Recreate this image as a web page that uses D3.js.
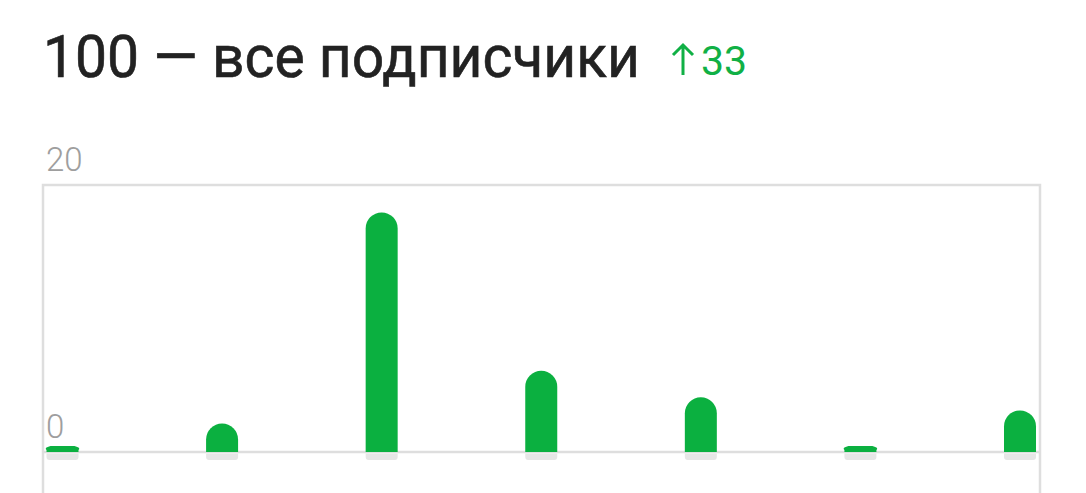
<!DOCTYPE html>
<html>
<head>
<meta charset="utf-8">
<script src="https://cdn.jsdelivr.net/npm/d3@7"></script>
<style>
  body { margin: 0; background: #fff; }
  svg { display: block; font-family: Roboto, "Noto Sans", sans-serif; }
</style>
</head>
<body>
<script>
// data
const days = ["d1", "d2", "d3", "d4", "d5", "d6", "d7"];
const subs = [0, 2, 18, 6, 4, 0, 3];
const yTicks = [0, 20];
const total = 100;
const gained = 33;

window.onload = draw();

function draw(){
    let width = 1086;
    let height = 493;

    let svg = d3.select("body")
        .append("svg")
        .attr("width", width)
        .attr("height", height);

    // title
    svg.append("text")
        .attr("x", 43)
        .attr("y", 77)
        .attr("font-size", 59)
        .attr("fill", "#222222")
        .attr("stroke", "#222222")
        .attr("stroke-width", 0.6)
        .attr("textLength", 597)
        .attr("lengthAdjust", "spacingAndGlyphs")
        .text(total + " — все подписчики");

    // green up arrow + gain
    svg.append("path")
        .attr("d", "M683,75 V45 M673,55 L683,45 L693,55")
        .attr("fill", "none")
        .attr("stroke", "#10b045")
        .attr("stroke-width", 3);

    svg.append("text")
        .attr("x", 701)
        .attr("y", 75)
        .attr("font-size", 41)
        .attr("fill", "#10b045")
        .text(gained);

    // frame
    let left = 43, right = 1040, top = 185, base = 452;

    let x = d3.scalePoint()
        .domain(days)
        .range([62.5, 1020]);

    let y = d3.scaleLinear()
        .domain([0, 20])
        .range([450, 186]);

    svg.append("path")
        .attr("d", `M${left},${height} V${top} H${right} V${height}`)
        .attr("fill", "none")
        .attr("stroke", "#dedede")
        .attr("stroke-width", 2.5);

    svg.append("line")
        .attr("x1", left).attr("x2", right)
        .attr("y1", base).attr("y2", base)
        .attr("stroke", "#dedede")
        .attr("stroke-width", 2.5);

    // y labels sit above their line
    svg.selectAll(".ylab")
        .data(yTicks)
        .enter()
        .append("text")
        .attr("class", "ylab")
        .attr("x", 46)
        .attr("y", d => (d === 0 ? base : top) - 14)
        .attr("font-size", 33)
        .attr("font-weight", 300)
        .attr("fill", "#9e9e9e")
        .text(d => d);

    let bw = 32, r = bw / 2;

    // grey shadow under each bar
    svg.selectAll(".shadow")
        .data(subs)
        .enter()
        .append("path")
        .attr("class", "shadow")
        .attr("d", (d, i) => {
            let cx = x(days[i]), x0 = cx - r, x1 = cx + r, y0 = base + 1.5, y1 = base + 8;
            return `M${x0},${y0} H${x1} V${y1 - 3} Q${x1},${y1} ${x1 - 3},${y1} H${x0 + 3} Q${x0},${y1} ${x0},${y1 - 3} Z`;
        })
        .attr("fill", "#e6e6e6");

    // bars with round tops
    svg.selectAll(".bar")
        .data(subs)
        .enter()
        .append("path")
        .attr("class", "bar")
        .attr("d", (d, i) => {
            let cx = x(days[i]), x0 = cx - r, x1 = cx + r;
            let yt = d > 0 ? y(d) : base - 6;
            let rr = Math.min(r, (base - yt));
            if (d === 0) rr = 4;
            return `M${x0},${base} V${yt + rr} A${r},${rr} 0 0 1 ${x0 + (d === 0 ? rr : r)},${yt}` +
                (d === 0 ? ` H${x1 - rr}` : "") +
                ` A${r},${rr} 0 0 1 ${x1},${yt + rr} V${base} Z`;
        })
        .attr("fill", "#0bb040");
}
</script>
</body>
</html>
